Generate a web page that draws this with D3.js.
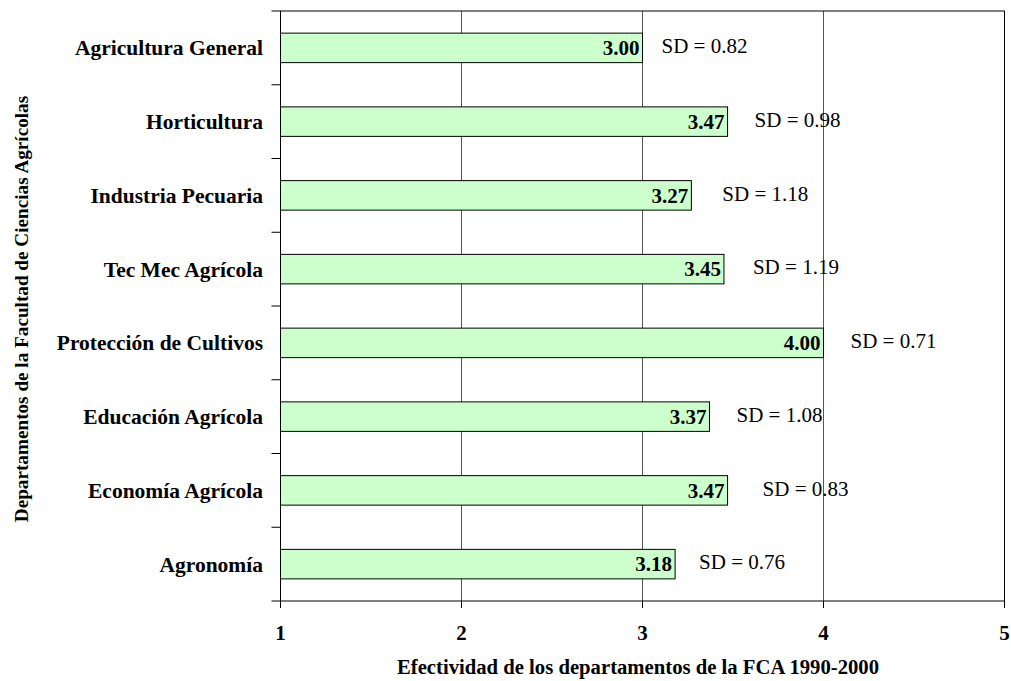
<!DOCTYPE html>
<html><head><meta charset="utf-8">
<script src="https://cdn.jsdelivr.net/npm/d3@7"></script>
<style>body{margin:0;background:#fff;} text{font-family:"Liberation Serif","Times New Roman",serif;}</style>
</head><body>
<svg id="chart" width="1011" height="681"></svg>
<script>
const categories = ["Agricultura General","Horticultura","Industria Pecuaria","Tec Mec Agrícola","Protección de Cultivos","Educación Agrícola","Economía Agrícola","Agronomía"];
const values = [3.00, 3.47, 3.27, 3.45, 4.00, 3.37, 3.47, 3.18];
const sds = [0.82, 0.98, 1.18, 1.19, 0.71, 1.08, 0.83, 0.76];
const xTicks = [1, 2, 3, 4, 5];
const xTitle = "Efectividad de los departamentos de la FCA 1990-2000";
const yTitle = "Departamentos de la Facultad de Ciencias Agrícolas";
// layout: horizontal offsets of SD labels from bar end (px)
const sdOffsets = [19, 27, 31, 29, 27, 27, 35, 24];

const FS = 21;
const svg = d3.select("#chart");
const m = {left: 280.5, right: 1004.5, top: 11, bottom: 601};
const x = d3.scaleLinear().domain([1, 5]).range([m.left, m.right]);
const y = d3.scaleBand().domain(categories).range([m.top, m.bottom]).paddingInner(0.6).paddingOuter(0.3);
const yb = d3.scaleBand().domain(categories).range([m.top, m.bottom]);

// gridlines
svg.append("g").selectAll("line").data(xTicks.slice(1, -1)).join("line")
  .attr("x1", d => x(d)).attr("x2", d => x(d)).attr("y1", m.top).attr("y2", m.bottom)
  .attr("stroke", "#555").attr("stroke-width", 1);

// bars
svg.append("g").selectAll("rect").data(values).join("rect")
  .attr("x", x(1)).attr("y", (d, i) => y(categories[i]))
  .attr("width", d => x(d) - x(1)).attr("height", y.bandwidth())
  .attr("fill", "#ccffcc").attr("stroke", "#000").attr("stroke-width", 1);

// frame
svg.append("rect").attr("x", m.left).attr("y", m.top).attr("width", m.right - m.left).attr("height", m.bottom - m.top)
  .attr("fill", "none").attr("stroke", "#000").attr("stroke-width", 1);

// y ticks at band boundaries
const yTickPos = categories.map(c => yb(c)).concat([m.bottom]);
svg.append("g").selectAll("line").data(yTickPos).join("line")
  .attr("x1", m.left - 9).attr("x2", m.left).attr("y1", d => d).attr("y2", d => d)
  .attr("stroke", "#000");

// x ticks
svg.append("g").selectAll("line").data(xTicks).join("line")
  .attr("x1", d => x(d)).attr("x2", d => x(d)).attr("y1", m.bottom).attr("y2", m.bottom + 7)
  .attr("stroke", "#000");
svg.append("g").selectAll("text").data(xTicks).join("text")
  .attr("x", d => x(d)).attr("y", 640).attr("text-anchor", "middle")
  .attr("font-size", FS).attr("font-weight", "bold").text(d => d);

// category labels
svg.append("g").selectAll("text").data(categories).join("text")
  .attr("x", 263).attr("y", d => yb(d) + yb.bandwidth() / 2).attr("dy", "0.35em")
  .attr("text-anchor", "end").attr("font-size", 21.5).attr("font-weight", "bold").text(d => d);

// value labels
svg.append("g").selectAll("text").data(values).join("text")
  .attr("x", d => x(d) - 3).attr("y", (d, i) => y(categories[i]) + y.bandwidth() / 2).attr("dy", "0.35em")
  .attr("text-anchor", "end").attr("font-size", FS).attr("font-weight", "bold").text(d => d.toFixed(2));

// SD labels
svg.append("g").selectAll("text").data(sds).join("text")
  .attr("x", (d, i) => x(values[i]) + sdOffsets[i]).attr("y", (d, i) => y(categories[i]) + y.bandwidth() / 2 - 2).attr("dy", "0.35em")
  .attr("font-size", FS).text(d => "SD = " + d.toFixed(2));

// axis titles
svg.append("text").attr("x", 638).attr("y", 674).attr("text-anchor", "middle")
  .attr("font-size", 20.7).attr("font-weight", "bold").text(xTitle);
svg.append("text").attr("transform", "translate(28,309) rotate(-90)")
  .attr("text-anchor", "middle").attr("font-size", 19.2).attr("font-weight", "bold").text(yTitle);
</script>
</body></html>
